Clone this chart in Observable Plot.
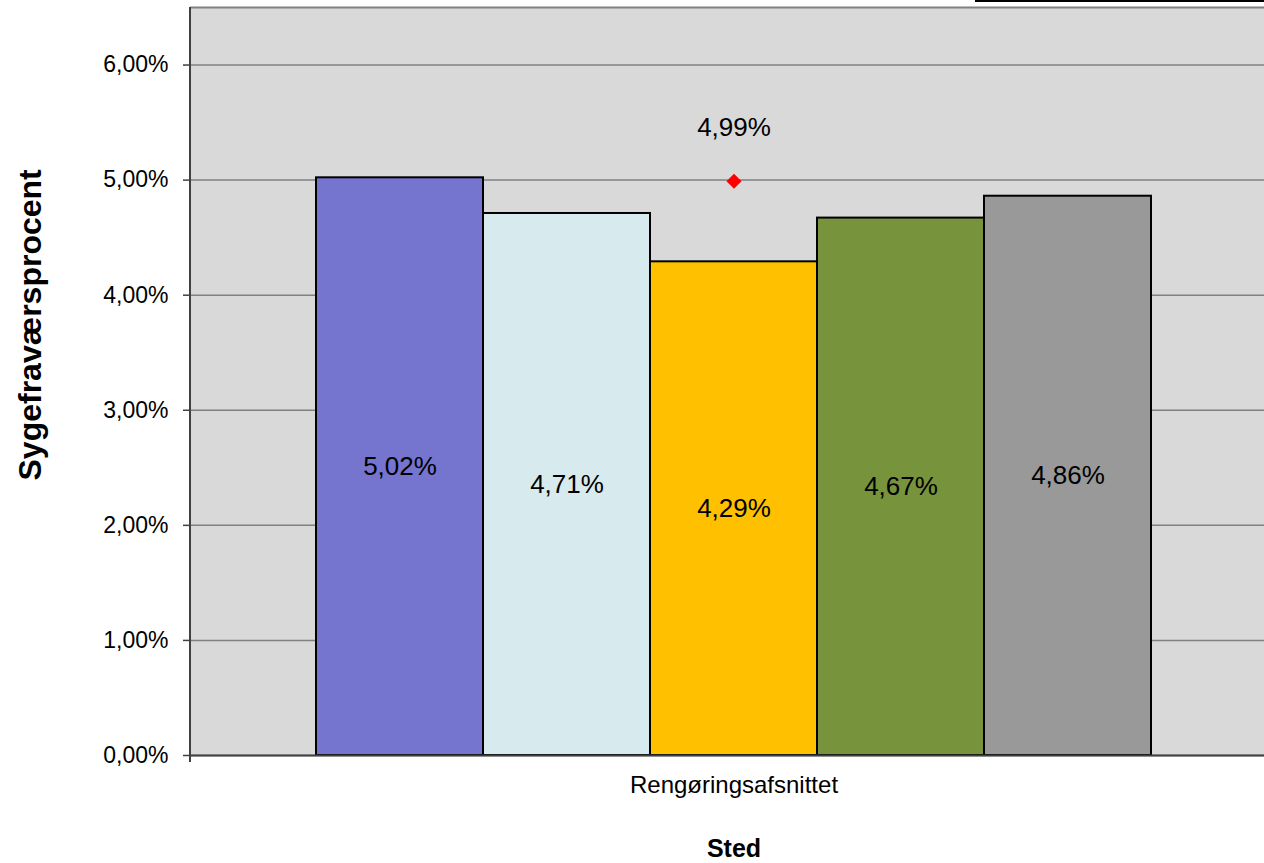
<!DOCTYPE html>
<html>
<head>
<meta charset="utf-8">
<script src="https://cdn.jsdelivr.net/npm/d3@7"></script>
<script src="https://cdn.jsdelivr.net/npm/@observablehq/plot@0.6"></script>
<style>
  html, body { margin: 0; padding: 0; background: #ffffff; overflow: hidden; }
  #wrap { position: relative; width: 1264px; height: 863px; }
  #legend { position: absolute; left: 975px; top: -40px; width: 300px; height: 42px;
            border: 2px solid #000; background: #fff; box-sizing: border-box; }
  svg { font-family: "Liberation Sans", Arial, sans-serif; }
</style>
</head>
<body>
<div id="wrap"><div id="legend"></div></div>
<script>
// ---- data ----
const category = "Rengøringsafsnittet";
const series = ["Serie 1", "Serie 2", "Serie 3", "Serie 4", "Serie 5"];
const values = [0.0502, 0.0471, 0.0429, 0.0467, 0.0486];
const colors = ["#7575d0", "#d7ebee", "#ffc000", "#77933c", "#999999"];
const totalValue = [0.0499];
const yTicks = [0, 0.01, 0.02, 0.03, 0.04, 0.05, 0.06];
const yTitle = "Sygefraværsprocent";
const xTitle = "Sted";

const rows = series.map((s, i) => ({series: s, value: values[i]}));
const loc = d3.formatLocale({decimal: ",", thousands: ".", grouping: [3], currency: ["", " kr"]});
const pct = loc.format(".2%");

const axisLines = (index, scales, values, dims) => {
  const g = d3.create("svg:g");
  const x0 = dims.marginLeft;
  const yb = dims.height - dims.marginBottom;
  const yt = dims.marginTop;
  g.append("line").attr("x1", x0).attr("x2", x0).attr("y1", yt).attr("y2", yb + 7)
    .attr("stroke", "#404040").attr("stroke-width", 2);
  return g.node();
};

const chart = Plot.plot({
  width: 1264,
  height: 863,
  marginLeft: 190,
  marginRight: -13,
  marginTop: 7,
  marginBottom: 108,
  style: {fontFamily: "Liberation Sans, Arial, sans-serif", background: "transparent"},
  x: {domain: series, insetLeft: 126, insetRight: 126, padding: 0, axis: null, label: null},
  y: {domain: [0, 0.065], axis: null, label: null},
  color: {domain: series, range: colors},
  marks: [
    Plot.frame({fill: "#d9d9d9", stroke: null}),
    Plot.gridY(yTicks, {stroke: "#808080", strokeOpacity: 1, strokeWidth: 1.5}),
    Plot.ruleY([0.065], {stroke: "#808080", strokeWidth: 2}),
    Plot.axisY(yTicks, {tickSize: 7, tickPadding: 15, tickFormat: pct, fontSize: 23, label: null,
                        stroke: "#404040", strokeWidth: 1.5, fill: "#000"}),
    Plot.barY(rows, {x: "series", y: "value", fill: "series", stroke: "#000", strokeWidth: 2}),
    Plot.ruleY([0], {stroke: "#404040", strokeWidth: 2}),
    axisLines,
    Plot.text(rows, {x: "series", y: d => d.value / 2, text: d => pct(d.value), fontSize: 26, fill: "#000"}),
    Plot.dot(totalValue, {y: d => d, frameAnchor: "middle", symbol: "diamond2", r: 6.8, fill: "#ff0000", stroke: null}),
    Plot.text(totalValue, {y: d => d, frameAnchor: "middle", text: d => pct(d), dy: -54, fontSize: 26, fill: "#000"}),
    Plot.text([category], {frameAnchor: "bottom", text: d => d, dy: 37, fontSize: 24, fill: "#000"}),
    Plot.text([xTitle], {frameAnchor: "bottom", text: d => d, dy: 101, fontSize: 25, fontWeight: "bold", fill: "#000"}),
    Plot.text([yTitle], {frameAnchor: "left", text: d => d, rotate: -90, dx: -160, dy: 99, fontSize: 32, fontWeight: "bold", fill: "#000"})
  ]
});
document.getElementById("wrap").appendChild(chart);
</script>
</body>
</html>
